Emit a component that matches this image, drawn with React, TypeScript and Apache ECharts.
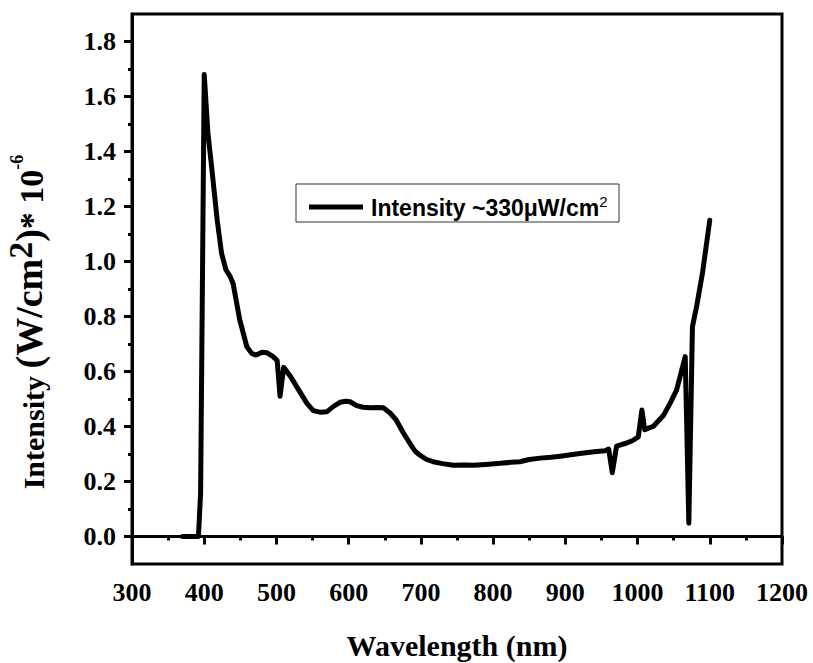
import React, { useEffect, useRef } from "react";
import * as echarts from "echarts";

const wavelengths = [
  370, 392, 395, 400, 405, 410, 418, 424, 430, 436, 440, 449, 459, 466, 472, 480, 487, 495, 501, 505,
  510, 520, 528, 542, 551, 560, 570, 580, 588, 596, 602, 611, 620, 630, 640, 648, 657, 666, 675, 685,
  692, 699, 708, 717, 730, 745, 760, 773, 790, 810, 825, 837, 850, 865, 880, 893, 910, 920, 940, 955,
  960, 965, 971, 985, 994, 1001, 1006, 1010, 1015, 1022, 1036, 1045, 1054, 1066, 1071, 1076, 1082, 1090, 1100,
];
const intensity = [
  0, 0, 0.16, 1.68, 1.47, 1.35, 1.15, 1.03, 0.97, 0.945, 0.92, 0.79, 0.69, 0.665, 0.66, 0.67, 0.668, 0.655, 0.64, 0.51,
  0.615, 0.58, 0.545, 0.485, 0.458, 0.452, 0.454, 0.475, 0.488, 0.492, 0.49, 0.476, 0.47, 0.468, 0.469, 0.468, 0.45, 0.423, 0.38, 0.338,
  0.31, 0.295, 0.28, 0.272, 0.265, 0.259, 0.26, 0.259, 0.262, 0.266, 0.27, 0.272, 0.28, 0.285, 0.288, 0.292, 0.298, 0.302, 0.308, 0.312,
  0.318, 0.232, 0.329, 0.34, 0.35, 0.362, 0.46, 0.388, 0.394, 0.401, 0.441, 0.484, 0.532, 0.654, 0.048, 0.763, 0.84, 0.96, 1.15,
];
const yMajorTicks = [0, 0.2, 0.4, 0.6, 0.8, 1.0, 1.2, 1.4, 1.6, 1.8];
const yMinorTicks = [0.1, 0.3, 0.5, 0.7, 0.9, 1.1, 1.3, 1.5, 1.7];
const legendLabel = "Intensity ~330μW/cm";

const SERIF = "'Liberation Serif', 'Times New Roman', serif";
const SANS = "'Liberation Sans', Arial, sans-serif";

export default function App() {
  const ref = useRef<HTMLDivElement>(null);
  useEffect(() => {
    if (!ref.current) return;
    const chart = echarts.init(ref.current, null, { renderer: "svg" });
    const data = wavelengths.map((w, i) => [w, intensity[i]]);
    chart.setOption({
      animation: false,
      backgroundColor: "#ffffff",
      grid: {
        left: 132,
        right: 31,
        top: 14,
        bottom: 99,
        show: true,
        borderColor: "#000",
        borderWidth: 3,
      },
      xAxis: {
        type: "value",
        min: 300,
        max: 1200,
        interval: 100,
        axisLine: { show: true, lineStyle: { color: "#000", width: 3 } },
        axisTick: { show: true, length: 8, lineStyle: { color: "#000", width: 3 } },
        minorTick: { show: true, splitNumber: 2, length: 4, lineStyle: { color: "#000", width: 3 } },
        splitLine: { show: false },
        axisLabel: {
          margin: 15,
          color: "#000",
          fontFamily: SERIF,
          fontWeight: "bold",
          fontSize: 26,
          formatter: (v: number) => String(v),
        },
      },
      yAxis: [
        {
          type: "value",
          min: -0.1,
          max: 1.9,
          axisLine: { show: true, lineStyle: { color: "#000", width: 3 } },
          axisTick: {
            show: true,
            length: 8,
            customValues: yMajorTicks,
            lineStyle: { color: "#000", width: 3 },
          },
          splitLine: { show: false },
          axisLabel: {
            customValues: yMajorTicks,
            margin: 16,
            color: "#000",
            fontFamily: SERIF,
            fontWeight: "bold",
            fontSize: 26,
            formatter: (v: number) => v.toFixed(1),
          },
        },
        {
          type: "value",
          min: -0.1,
          max: 1.9,
          position: "left",
          axisLine: { show: false },
          axisTick: {
            show: true,
            length: 4,
            customValues: yMinorTicks,
            lineStyle: { color: "#000", width: 3 },
          },
          splitLine: { show: false },
          axisLabel: { show: false },
        },
      ],
      series: [
        {
          type: "line",
          data,
          yAxisIndex: 0,
          showSymbol: false,
          symbol: "none",
          lineStyle: { color: "#000", width: 5, cap: "round", join: "round" },
        },
      ],
      graphic: [
        {
          type: "text",
          x: 457,
          y: 645,
          style: {
            text: "Wavelength (nm)",
            fill: "#000",
            font: `bold 30px ${SERIF}`,
            align: "center",
            verticalAlign: "middle",
          },
        },
        {
          type: "text",
          x: 28,
          y: 322,
          rotation: Math.PI / 2,
          style: {
            text: "{a|Intensity }{b|(W/cm}{s|2}{b|)}{c|* 10}{t|-6}",
            fill: "#000",
            align: "center",
            verticalAlign: "middle",
            rich: {
              a: { fontFamily: SERIF, fontWeight: "bold", fontSize: 30, lineHeight: 36, verticalAlign: "bottom", fill: "#000" },
              b: { fontFamily: SERIF, fontWeight: "bold", fontSize: 38, lineHeight: 40, verticalAlign: "bottom", fill: "#000" },
              c: { fontFamily: SERIF, fontWeight: "bold", fontSize: 34, lineHeight: 38, verticalAlign: "bottom", fill: "#000" },
              s: { fontFamily: SERIF, fontWeight: "bold", fontSize: 34, lineHeight: 34, padding: [0, 0, 11, 0], verticalAlign: "bottom", fill: "#000" },
              t: { fontFamily: SERIF, fontWeight: "bold", fontSize: 18, lineHeight: 18, padding: [0, 0, 22, 0], verticalAlign: "bottom", fill: "#000" },
            },
          },
        },
        {
          type: "rect",
          shape: { x: 296, y: 184, width: 323, height: 38 },
          style: { fill: "#fff", stroke: "#333", lineWidth: 1 },
        },
        {
          type: "line",
          shape: { x1: 309, y1: 207, x2: 363, y2: 207 },
          style: { stroke: "#000", lineWidth: 5 },
        },
        {
          type: "text",
          x: 371,
          y: 205,
          style: {
            text: `{m|${legendLabel}}{s|2}`,
            verticalAlign: "middle",
            align: "left",
            rich: {
              m: { fontFamily: SANS, fontWeight: "bold", fontSize: 23, lineHeight: 28, verticalAlign: "bottom", fill: "#000" },
              s: { fontFamily: SANS, fontWeight: "normal", fontSize: 15, lineHeight: 16, padding: [0, 0, 10, 0], verticalAlign: "bottom", fill: "#000" },
            },
          },
        },
      ],
    });
    return () => chart.dispose();
  }, []);
  return (
    <div
      ref={ref}
      style={{ position: "fixed", left: 0, top: 0, width: 813, height: 663 }}
    />
  );
}
